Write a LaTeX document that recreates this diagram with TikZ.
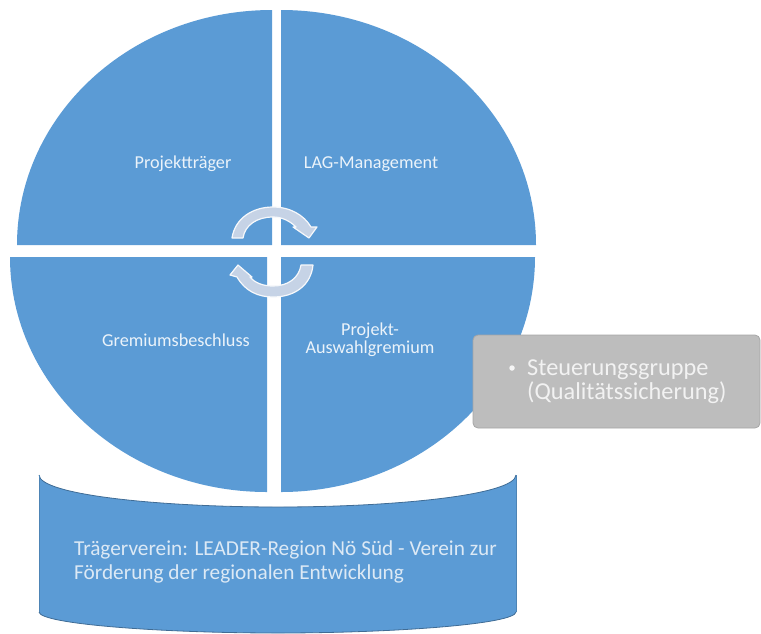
\documentclass[tikz,border=0pt]{standalone}
\usepackage{fontspec}
\setmainfont{Carlito}
\definecolor{bluefill}{HTML}{5B9BD5}
\definecolor{greyfill}{HTML}{BDBDBD}
\definecolor{cycfill}{HTML}{C6D3E6}
\definecolor{softtext}{HTML}{DCE9F5}
\begin{document}
\begin{tikzpicture}[x=1pt,y=-1pt,
  quarter/.style={fill=bluefill,draw=none},
  cyclearrow/.style={fill=cycfill,draw=white!85!cycfill,line width=1.2pt,line join=round},
  smalllabel/.style={text=white!88!bluefill,font=\fontsize{18.2}{18}\selectfont,align=center,inner sep=0pt},
  baselabel/.style={text=softtext,font=\fontsize{21.3}{23.5}\selectfont,align=left,inner sep=0pt,anchor=west},
  edgeline/.style={draw=black!30!bluefill,line width=.8pt},
  greybox/.style={fill=greyfill,draw=black!35,line width=.8pt,rounded corners=5pt}]
\useasboundingbox (0,0) rectangle (761,633);
% quadrants
\fill[quarter] (272,245) -- (17,245) .. controls (17,115) and (131,10) .. (272,10) -- cycle;
\fill[quarter] (281,245) -- (536,245) .. controls (536,115) and (422,10) .. (281,10) -- cycle;
\fill[quarter] (267,257) -- (10,257) .. controls (10,387) and (125,492) .. (267,492) -- cycle;
\fill[quarter] (281,257) -- (535,257) .. controls (535,387) and (421,492) .. (281,492) -- cycle;
% cycle arrows
\path[cyclearrow] (232,238) .. controls (235,218) and (253,207) .. (273,207)
  .. controls (290,207) and (304,215) .. (311,227) -- (317,227) -- (309,238) -- (293,227) -- (296,227)
  .. controls (290,221) and (282,217) .. (273,217)
  .. controls (257,217) and (245,225) .. (243,238) -- cycle;
\path[cyclearrow] (313,265) .. controls (311,285) and (295,297) .. (273,297)
  .. controls (258,297) and (245,291) .. (237,277) -- (230,275) -- (238,265) -- (252,277) -- (250,277)
  .. controls (255,283) and (263,286) .. (273,286)
  .. controls (288,286) and (299,278) .. (301,265) -- cycle;
% base cylinder
\fill[bluefill]
  (39,475) .. controls (40,495) and (160,507) .. (278,507)
  .. controls (396,507) and (515,495) .. (516,475)
  -- (516,612) .. controls (515,624) and (396,633) .. (278,633)
  .. controls (160,633) and (40,624) .. (39,612) -- cycle;
\draw[edgeline] (39,475) .. controls (40,495) and (160,507) .. (278,507)
  .. controls (396,507) and (515,495) .. (516,475);
\draw[edgeline] (516,612) .. controls (515,624) and (396,633) .. (278,633)
  .. controls (160,633) and (40,624) .. (39,612);
\draw[bluefill!85!black,line width=.6pt] (39,475) -- (39,612) (516,475) -- (516,612);
% grey box
\path[greybox] (473,335) rectangle (760,428);
% labels
\node[smalllabel] (projekttraeger) at (183,164) {Projektträger};
\node[smalllabel] (lagmanagement) at (371,164) {LAG-Management};
\node[smalllabel] (gremium) at (176,340) {Gremiumsbeschluss};
\node[smalllabel] (auswahl) at (370,340) {Projekt-\\Auswahlgremium};
\node[text=white!80!greyfill,font=\fontsize{24.3}{24}\selectfont,align=left,inner sep=0pt,anchor=west] (steuerung) at (527,382) {Steuerungsgruppe\\(Qualitätssicherung)};
\node[circle,fill=white!85!greyfill,inner sep=0pt,minimum size=5.5pt] (bullet) at (512,368) {};
\node[baselabel] (traeger) at (74,562) {Trägerverein: LEADER-Region Nö Süd - Verein zur\\Förderung der regionalen Entwicklung};
\end{tikzpicture}
\end{document}
